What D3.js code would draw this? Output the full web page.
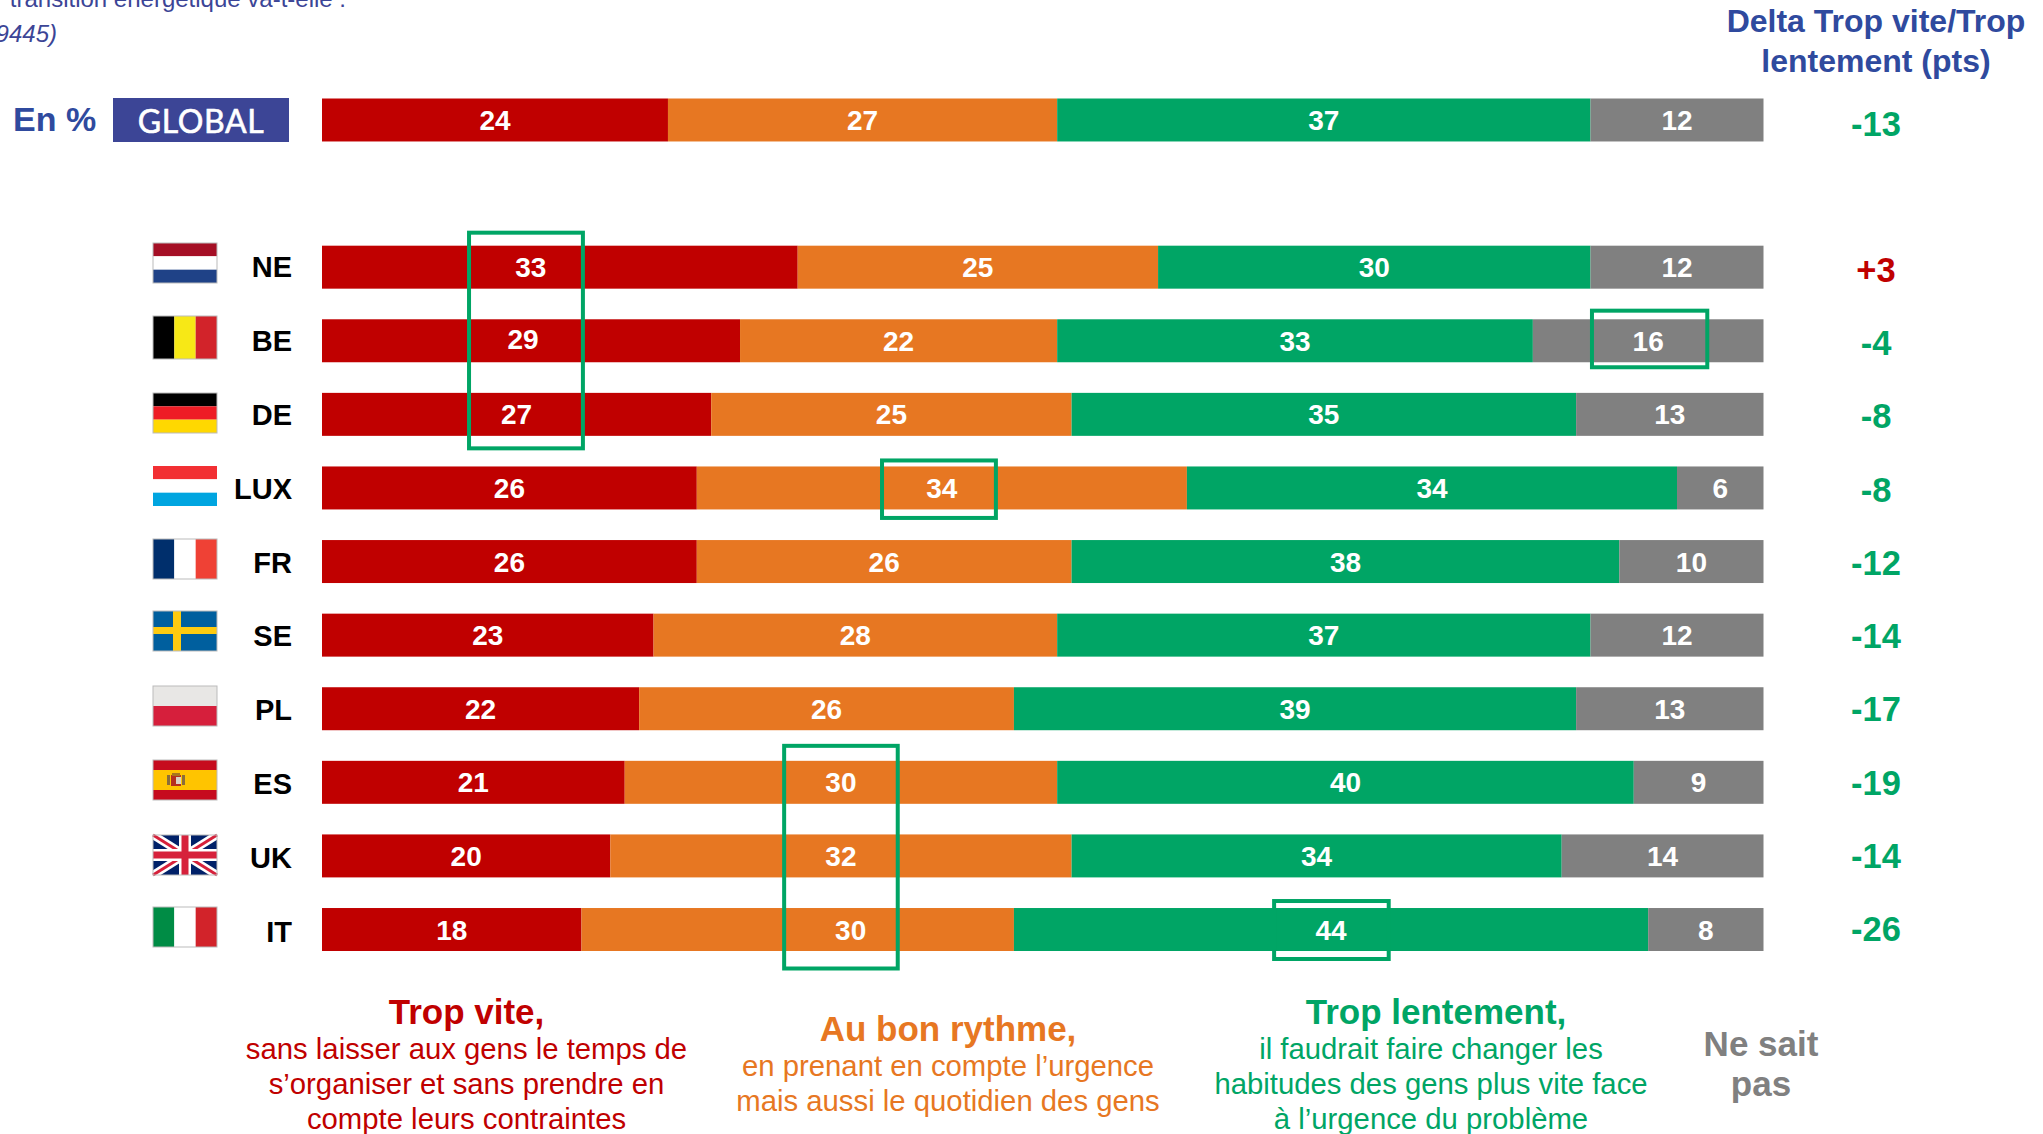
<!DOCTYPE html>
<html lang="fr">
<head>
<meta charset="utf-8">
<script src="https://cdn.jsdelivr.net/npm/d3@7"></script>
<style>
html,body{margin:0;padding:0;background:#fff;overflow:hidden}
svg{display:block}
text{font-family:"Liberation Sans",Arial,sans-serif}
</style>
</head>
<body>
<svg id="chart" width="2043" height="1134"></svg>
<script>
// ---- data ----
const rows = ["GLOBAL","NE","BE","DE","LUX","FR","SE","PL","ES","UK","IT"];
const tropVite      = [24,33,29,27,26,26,23,22,21,20,18];
const auBonRythme   = [27,25,22,25,34,26,28,26,30,32,30];
const tropLentement = [37,30,33,35,34,38,37,39,40,34,44];
const neSaitPas     = [12,12,16,13, 6,10,12,13, 9,14, 8];
const delta         = ["-13","+3","-4","-8","-8","-12","-14","-17","-19","-14","-26"];
const seriesKeys    = ["tropVite","auBonRythme","tropLentement","neSaitPas"];

// ---- styles & layout ----
const colors = {tropVite:"#c00000",auBonRythme:"#e77722",tropLentement:"#00a565",neSaitPas:"#808080"};
const blue = "#2f4a9e";
const svg = d3.select("#chart");
const x = d3.scaleLinear().domain([0,100]).range([322,1763.5]);
const yDomain = ["GLOBAL","_gap",...rows.slice(1)];
const y = d3.scaleBand().domain(yDomain).range([98.5,951]).paddingInner(0.416).paddingOuter(0);
const deltaY = d3.scalePoint().domain(yDomain).range([135.5,941]);
const countryY = d3.scalePoint().domain(rows.slice(1)).range([277,942]);

// labels nudged off their segment centre in the reference
const labelShift = {"NE|tropVite":-29,"BE|tropVite":-8,"IT|auBonRythme":53};
const labelLift  = {"BE|tropVite":-2};

// ---- stacked bars ----
const table = rows.map((r,i)=>({row:r,tropVite:tropVite[i],auBonRythme:auBonRythme[i],tropLentement:tropLentement[i],neSaitPas:neSaitPas[i]}));
const stacked = d3.stack().keys(seriesKeys)(table);
const groups = svg.append("g").selectAll("g").data(stacked).join("g").attr("fill",d=>colors[d.key]);
groups.selectAll("rect").data(d=>d).join("rect")
  .attr("x",d=>x(d[0])).attr("width",d=>x(d[1])-x(d[0]))
  .attr("y",d=>y(d.data.row)).attr("height",y.bandwidth());

const labels = svg.append("g").attr("font-size",28).attr("font-weight",700).attr("fill","#fff").attr("text-anchor","middle");
stacked.forEach(s=>{
  labels.selectAll(null).data(s).join("text")
    .attr("x",d=>(x(d[0])+x(d[1]))/2+(labelShift[d.data.row+"|"+s.key]||0))
    .attr("y",d=>y(d.data.row)+y.bandwidth()/2+10+(labelLift[d.data.row+"|"+s.key]||0))
    .text(d=>d[1]-d[0]);
});

// ---- highlight boxes (x in percent along the bar) ----
const boxes = [
  {x0:10.2,x1:18.1,from:"NE",to:"DE",padTop:13,padBottom:12.5},
  {x0:88.1,x1:96.1,from:"BE",to:"BE",padTop:8.6,padBottom:5},
  {x0:38.85,x1:46.75,from:"LUX",to:"LUX",padTop:6,padBottom:8.5},
  {x0:32.06,x1:39.94,from:"ES",to:"IT",padTop:15,padBottom:17.5},
  {x0:66.05,x1:74,from:"IT",to:"IT",padTop:7,padBottom:8}
];
svg.append("g").selectAll("rect").data(boxes).join("rect")
  .attr("x",d=>x(d.x0)).attr("width",d=>x(d.x1)-x(d.x0))
  .attr("y",d=>y(d.from)-d.padTop)
  .attr("height",d=>y(d.to)+y.bandwidth()+d.padBottom-y(d.from)+d.padTop)
  .attr("fill","none").attr("stroke",colors.tropLentement).attr("stroke-width",4);

// ---- country labels ----
svg.append("g").attr("font-size",29).attr("font-weight",700).attr("fill","#000").attr("text-anchor","end")
  .selectAll("text").data(rows.slice(1)).join("text")
  .attr("x",292).attr("y",d=>countryY(d)).text(d=>d);

// ---- delta column ----
svg.append("g").attr("font-size",34.5).attr("font-weight",700).attr("text-anchor","middle")
  .selectAll("text").data(rows).join("text")
  .attr("x",1876).attr("y",d=>deltaY(d))
  .attr("fill",(d,i)=>delta[i][0]==="+"?colors.tropVite:colors.tropLentement)
  .text((d,i)=>delta[i]);

const head = svg.append("g").attr("font-size",32).attr("font-weight",700).attr("fill",blue).attr("text-anchor","middle");
head.append("text").attr("x",1876).attr("y",32).text("Delta Trop vite/Trop");
head.append("text").attr("x",1876).attr("y",72).text("lentement (pts)");

// ---- global tag ----
svg.append("text").attr("x",13).attr("y",131).attr("font-size",34).attr("font-weight",700).attr("fill",blue).text("En %");
svg.append("rect").attr("x",113).attr("y",98).attr("width",176).attr("height",44).attr("fill","#3c4596");
svg.append("text").attr("x",201).attr("y",133).attr("text-anchor","middle").attr("font-size",32)
  .attr("fill","#fff").attr("stroke","#fff").attr("stroke-width",0.6).attr("letter-spacing",0.6).style("font-family","Lato").text("GLOBAL");

// ---- question, cropped by the top and left of the picture ----
svg.append("text").attr("x",346).attr("y",7).attr("text-anchor","end").attr("font-size",24).attr("fill","#3c4596").text("transition énergétique va-t-elle :");
svg.append("text").attr("x",57).attr("y",42).attr("text-anchor","end").attr("font-size",24).attr("font-style","italic").attr("fill","#3c4596").text("9445)");

// ---- legend ----
const legend = [
  {cx:466.5,lx:466.5,color:colors.tropVite,title:"Trop vite,",ty:1024,lines:["sans laisser aux gens le temps de","s’organiser et sans prendre en","compte leurs contraintes"],ly:[1059,1094,1129]},
  {cx:948,lx:948,color:colors.auBonRythme,title:"Au bon rythme,",ty:1041,lines:["en prenant en compte l’urgence","mais aussi le quotidien des gens"],ly:[1076,1111]},
  {cx:1436,lx:1431,color:colors.tropLentement,title:"Trop lentement,",ty:1024,lines:["il faudrait faire changer les","habitudes des gens plus vite face","à l’urgence du problème"],ly:[1059,1094,1129]}
];
legend.forEach(l=>{
  const g = svg.append("g").attr("fill",l.color).attr("text-anchor","middle");
  g.append("text").attr("x",l.cx).attr("y",l.ty).attr("font-size",35).attr("font-weight",700).text(l.title);
  l.lines.forEach((t,i)=>g.append("text").attr("x",l.lx).attr("y",l.ly[i]).attr("font-size",29.3).text(t));
});
const ns = svg.append("g").attr("fill",colors.neSaitPas).attr("text-anchor","middle").attr("font-size",35).attr("font-weight",700);
ns.append("text").attr("x",1761).attr("y",1056).text("Ne sait");
ns.append("text").attr("x",1761).attr("y",1096).text("pas");

// ---- flags ----
const flagX = 153, flagW = 64;
const flagTop = {NE:243,BE:316,DE:393,LUX:466,FR:539,SE:611,PL:686,ES:760,UK:835,IT:907};
const flagTall = {BE:43};
const hStripes = {NE:["#a50f25","#ffffff","#1f4287"],DE:["#000000","#ee1c25","#ffd800"],LUX:["#f22f33","#ffffff","#00a5e0"],PL:["#e8e7e5","#d61f3c"]};
const vStripes = {BE:["#000000","#f7e816","#d2232a"],FR:["#002f6c","#ffffff","#ef4135"],IT:["#008c45","#ffffff","#d2232a"]};
const flags = svg.append("g");
rows.slice(1).forEach(code=>{
  const flagH = flagTall[code]||40;
  const g = flags.append("g").attr("transform",`translate(${flagX},${flagTop[code]})`);
  const r = (a,b,w,h,f)=>g.append("rect").attr("x",a).attr("y",b).attr("width",w).attr("height",h).attr("fill",f);
  if(hStripes[code]){ const c=hStripes[code]; c.forEach((f,i)=>r(0,i*flagH/c.length,flagW,flagH/c.length,f)); }
  else if(vStripes[code]){ const c=vStripes[code]; c.forEach((f,i)=>r(i*flagW/c.length,0,flagW/c.length,flagH,f)); }
  else if(code==="SE"){ r(0,0,flagW,flagH,"#005f9e"); r(20,0,8,flagH,"#fecb10"); r(0,16,flagW,7,"#fecb10"); }
  else if(code==="ES"){ r(0,0,flagW,flagH,"#c60b1e"); r(0,10,flagW,20,"#ffc400");
    r(14,15,3,10,"#8a6d3b"); r(29,15,3,10,"#8a6d3b"); r(18,15,10,11,"#b5301f"); r(19,13,8,3,"#a8761f"); r(23,17,5,7,"#d9d2c5"); }
  else if(code==="UK"){ r(0,0,flagW,flagH,"#012169");
    const line=(a,b,c,d,w,f)=>g.append("line").attr("x1",a).attr("y1",b).attr("x2",c).attr("y2",d).attr("stroke",f).attr("stroke-width",w);
    line(0,0,flagW,flagH,8,"#fff"); line(flagW,0,0,flagH,8,"#fff");
    line(0,0,flagW,flagH,3,"#d6213b"); line(flagW,0,0,flagH,3,"#d6213b");
    r(26,0,12,flagH,"#fff"); r(0,14,flagW,12,"#fff");
    r(28.5,0,7,flagH,"#d6213b"); r(0,16.5,flagW,7,"#d6213b"); }
  if(code!=="LUX") g.append("rect").attr("width",flagW).attr("height",flagH).attr("fill","none").attr("stroke","#bbb").attr("stroke-width",1);
});
</script>
</body>
</html>
